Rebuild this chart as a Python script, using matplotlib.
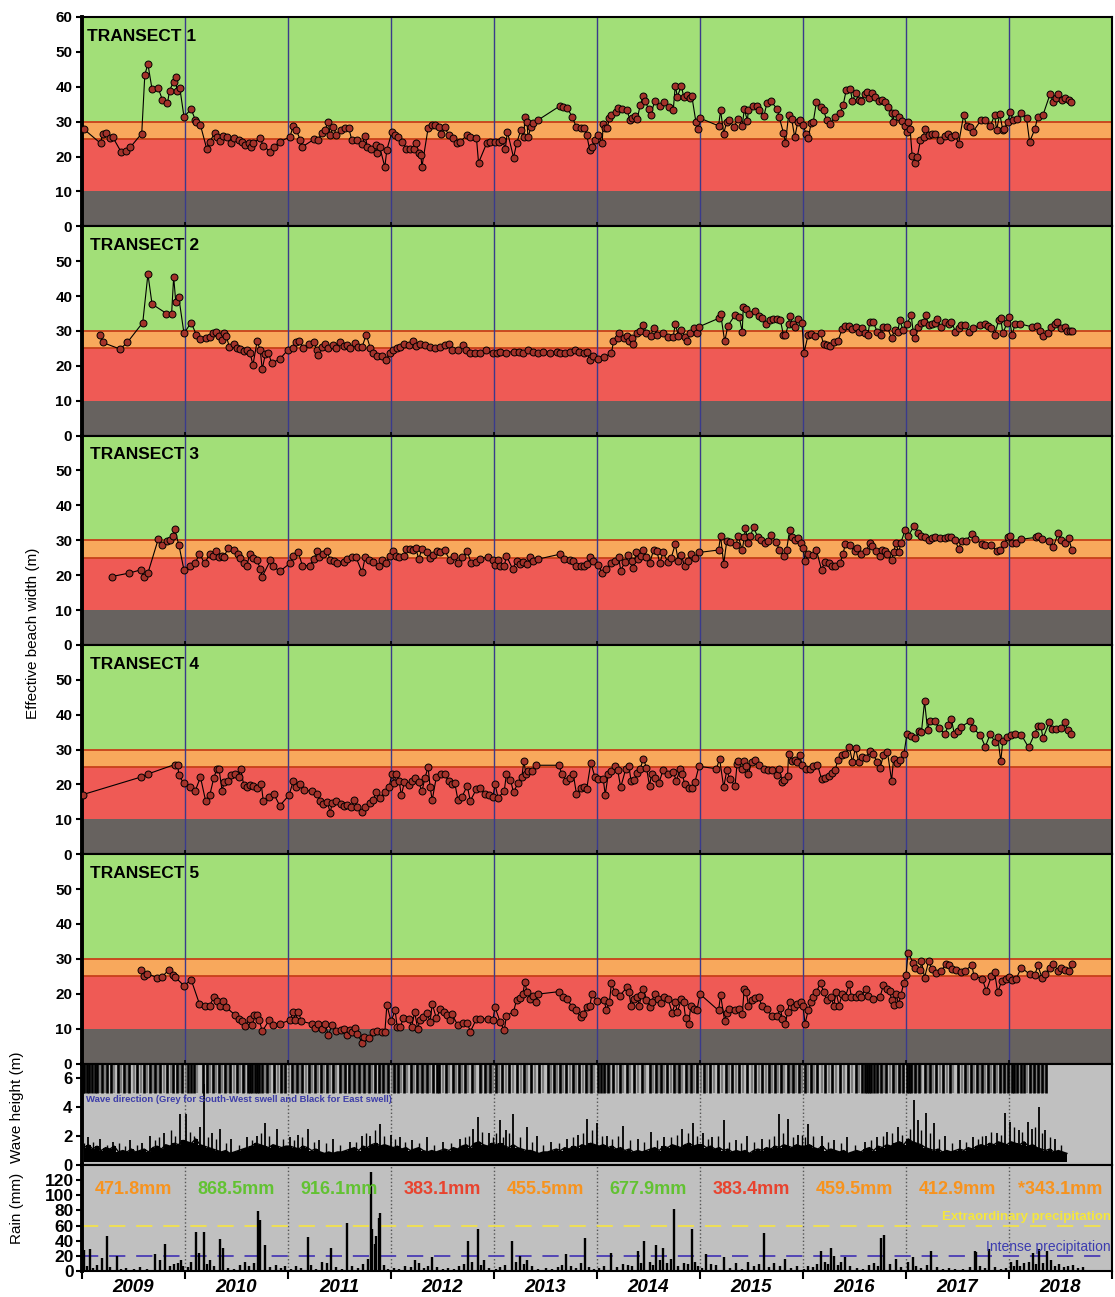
"""Effective beach width of five transects with wave height and rain, 2009-2018."""

import matplotlib
matplotlib.use("Agg")
import matplotlib.pyplot as plt
import numpy as np

plt.rcParams["font.family"] = ["Liberation Sans", "DejaVu Sans"]

# ---- transect data (decimal year, effective beach width in m) ----
t1_year = [
    2009.02, 2009.18, 2009.20, 2009.23, 2009.27, 2009.30, 2009.38, 2009.43, 2009.47, 2009.58,
    2009.61, 2009.64, 2009.68, 2009.74, 2009.78, 2009.83, 2009.85, 2009.89, 2009.91, 2009.92,
    2009.95, 2009.99, 2010.06, 2010.10, 2010.11, 2010.15, 2010.21, 2010.24, 2010.29, 2010.31,
    2010.34, 2010.37, 2010.41, 2010.45, 2010.48, 2010.52, 2010.55, 2010.58, 2010.62, 2010.64,
    2010.66, 2010.73, 2010.76, 2010.83, 2010.86, 2010.92, 2011.02, 2011.05, 2011.08, 2011.12,
    2011.14, 2011.25, 2011.29, 2011.33, 2011.36, 2011.39, 2011.41, 2011.44, 2011.47, 2011.51,
    2011.55, 2011.59, 2011.62, 2011.67, 2011.72, 2011.75, 2011.77, 2011.81, 2011.85, 2011.86,
    2011.89, 2011.94, 2011.96, 2012.01, 2012.04, 2012.07, 2012.11, 2012.15, 2012.18, 2012.22,
    2012.24, 2012.27, 2012.29, 2012.30, 2012.36, 2012.40, 2012.43, 2012.47, 2012.49, 2012.52,
    2012.56, 2012.60, 2012.64, 2012.67, 2012.74, 2012.77, 2012.83, 2012.85, 2012.93, 2012.96,
    2013.01, 2013.05, 2013.08, 2013.11, 2013.13, 2013.19, 2013.22, 2013.26, 2013.29, 2013.30,
    2013.32, 2013.33, 2013.36, 2013.38, 2013.43, 2013.64, 2013.67, 2013.71, 2013.76, 2013.80,
    2013.84, 2013.87, 2013.90, 2013.93, 2013.95, 2013.98, 2014.01,
    2014.05, 2014.06, 2014.08, 2014.10, 2014.12, 2014.14, 2014.18, 2014.20, 2014.24, 2014.29,
    2014.32, 2014.34, 2014.37, 2014.39, 2014.42, 2014.45, 2014.47, 2014.50, 2014.52, 2014.56,
    2014.61, 2014.65, 2014.70, 2014.74, 2014.76, 2014.78, 2014.82, 2014.84, 2014.87, 2014.90,
    2014.92, 2014.96, 2014.98, 2015.00, 2015.18, 2015.20, 2015.23, 2015.26, 2015.28, 2015.33,
    2015.37, 2015.41, 2015.43, 2015.46, 2015.47, 2015.51, 2015.55, 2015.57, 2015.62, 2015.65,
    2015.69, 2015.75, 2015.77, 2015.81, 2015.83, 2015.86, 2015.89, 2015.92, 2015.95, 2015.97,
    2016.00, 2016.03, 2016.05, 2016.08, 2016.10, 2016.13, 2016.17, 2016.20, 2016.23, 2016.26,
    2016.31, 2016.36, 2016.39, 2016.42, 2016.46, 2016.48, 2016.51, 2016.54, 2016.56, 2016.60,
    2016.62, 2016.64, 2016.67, 2016.70, 2016.74, 2016.77, 2016.80, 2016.83, 2016.86, 2016.87,
    2016.89, 2016.93, 2016.96, 2016.99, 2017.01, 2017.02, 2017.04, 2017.06, 2017.09, 2017.11,
    2017.14, 2017.17, 2017.18, 2017.22, 2017.25, 2017.28, 2017.33, 2017.38, 2017.41, 2017.44,
    2017.48, 2017.51, 2017.56, 2017.59, 2017.62, 2017.65, 2017.73, 2017.77, 2017.82, 2017.86,
    2017.88, 2017.91, 2017.94, 2017.95, 2017.99, 2018.01, 2018.04, 2018.08, 2018.12, 2018.17,
    2018.20, 2018.25, 2018.28, 2018.33, 2018.40, 2018.43, 2018.46, 2018.48, 2018.51, 2018.54,
    2018.58, 2018.60,
]
t1_width = [
    27.8, 23.8, 26.4, 26.8, 25.2, 25.5, 21.3, 21.6, 22.7, 26.6,
    43.5, 46.5, 39.3, 39.6, 36.3, 35.3, 38.9, 41.5, 42.7, 38.9,
    39.6, 31.4, 33.6, 30.5, 30.0, 29.0, 22.3, 24.2, 26.8, 25.7,
    24.5, 25.9, 25.7, 23.9, 25.3, 24.7, 24.2, 23.3, 23.9, 22.8,
    23.9, 25.2, 23.1, 21.3, 22.8, 24.2, 25.7, 28.8, 27.6, 24.7,
    22.8, 24.9, 24.7, 26.8, 27.6, 30.0, 26.2, 28.4, 26.2, 27.6,
    28.1, 28.1, 24.7, 24.7, 23.6, 25.9, 22.8, 22.3, 23.3, 20.9,
    22.8, 17.0, 22.0, 27.1, 26.2, 25.7, 24.2, 22.3, 22.3, 22.3,
    23.9, 21.1, 20.4, 17.0, 28.1, 29.0, 29.0, 28.6, 26.6, 28.4,
    26.2, 25.2, 23.9, 24.2, 26.2, 25.7, 25.2, 18.2, 23.9, 24.2,
    24.2, 24.2, 24.7, 22.3, 27.1, 19.7, 23.8, 27.6, 25.7, 31.4,
    30.0, 25.5, 28.6, 29.5, 30.5, 34.5, 34.1, 34.0, 31.3, 28.4,
    28.1, 28.1, 26.2, 21.8, 22.8, 24.7, 26.2,
    23.8, 29.3, 28.1, 28.1, 31.0, 31.9, 32.9, 33.8, 33.6, 33.4,
    30.5, 31.0, 31.6, 30.7, 34.8, 37.4, 35.8, 33.6, 31.9, 35.8,
    34.5, 35.5, 34.3, 33.2, 40.3, 37.2, 40.3, 37.2, 37.7, 36.7,
    37.4, 30.0, 27.8, 31.0, 28.8, 33.2, 26.6, 30.0, 30.5, 28.6,
    30.7, 28.8, 33.6, 30.3, 33.4, 34.5, 34.5, 33.2, 31.6, 35.3,
    35.8, 33.6, 31.2, 26.8, 23.9, 31.9, 30.7, 25.5, 30.0, 30.5,
    29.0, 26.6, 25.2, 29.7, 30.0, 35.5, 34.3, 33.2, 30.5, 29.3,
    31.4, 32.6, 34.8, 39.1, 39.3, 35.8, 38.2, 36.1, 35.8, 37.9,
    38.4, 36.7, 38.2, 37.2, 35.8, 36.3, 35.5, 34.1, 32.6, 30.0,
    32.4, 31.4, 30.3, 28.8, 27.1, 30.0, 27.8, 20.1, 18.2, 19.9,
    24.7, 25.5, 27.8, 26.2, 26.6, 26.4, 24.7, 25.9, 26.4, 25.7,
    26.2, 23.6, 31.9, 28.8, 28.6, 27.1, 30.5, 30.5, 28.8, 31.9,
    27.6, 32.2, 27.6, 27.8, 30.0, 32.9, 30.5, 30.7, 32.4, 31.0,
    24.2, 27.8, 31.4, 31.9, 38.0, 35.5, 36.7, 38.0, 36.3, 36.7,
    36.3, 35.5,
]

t2_year = [
    2009.17, 2009.20, 2009.37, 2009.44, 2009.59, 2009.64, 2009.68, 2009.82, 2009.87, 2009.89,
    2009.91, 2009.94, 2009.99, 2010.06, 2010.11, 2010.15, 2010.20, 2010.24, 2010.27, 2010.30,
    2010.33, 2010.36, 2010.38, 2010.40, 2010.43, 2010.48, 2010.50, 2010.53, 2010.57, 2010.60,
    2010.63, 2010.66, 2010.70, 2010.73, 2010.75, 2010.78, 2010.81, 2010.84, 2010.92, 2011.00,
    2011.05, 2011.08, 2011.11, 2011.15, 2011.20, 2011.25, 2011.28, 2011.29, 2011.33, 2011.36,
    2011.39, 2011.44, 2011.47, 2011.50, 2011.54, 2011.57, 2011.60, 2011.65, 2011.68, 2011.72,
    2011.76, 2011.80, 2011.83, 2011.86, 2011.91, 2011.95, 2011.99, 2012.02, 2012.06, 2012.09,
    2012.13, 2012.17, 2012.21, 2012.24, 2012.28, 2012.33, 2012.38, 2012.43, 2012.48, 2012.52,
    2012.56, 2012.59, 2012.65, 2012.70, 2012.73, 2012.77, 2012.82, 2012.86, 2012.92, 2012.99,
    2013.03, 2013.06, 2013.12, 2013.19, 2013.24, 2013.28, 2013.33, 2013.38, 2013.43, 2013.48,
    2013.54, 2013.61, 2013.64, 2013.69, 2013.74, 2013.79, 2013.83, 2013.87, 2013.90, 2013.93,
    2013.96, 2014.01,
    2014.07, 2014.14, 2014.16, 2014.20, 2014.21, 2014.26, 2014.29, 2014.31, 2014.34, 2014.35,
    2014.39, 2014.42, 2014.45, 2014.48, 2014.52, 2014.55, 2014.58, 2014.64, 2014.69, 2014.74,
    2014.76, 2014.79, 2014.82, 2014.85, 2014.87, 2014.90, 2014.94, 2014.97, 2014.99, 2015.18,
    2015.20, 2015.24, 2015.27, 2015.34, 2015.38, 2015.41, 2015.42, 2015.45, 2015.48, 2015.53,
    2015.57, 2015.60, 2015.64, 2015.68, 2015.71, 2015.75, 2015.78, 2015.81, 2015.83, 2015.86,
    2015.87, 2015.90, 2015.92, 2015.95, 2015.99, 2016.01, 2016.05, 2016.08, 2016.12, 2016.17,
    2016.20, 2016.23, 2016.26, 2016.30, 2016.34, 2016.38, 2016.41, 2016.45, 2016.48, 2016.51,
    2016.54, 2016.57, 2016.60, 2016.63, 2016.65, 2016.68, 2016.72, 2016.76, 2016.78, 2016.82,
    2016.86, 2016.89, 2016.92, 2016.94, 2016.97, 2017.01, 2017.05, 2017.07, 2017.09, 2017.12,
    2017.15, 2017.17, 2017.19, 2017.22, 2017.25, 2017.28, 2017.30, 2017.34, 2017.38, 2017.42,
    2017.44, 2017.48, 2017.51, 2017.53, 2017.57, 2017.61, 2017.65, 2017.72, 2017.77, 2017.80,
    2017.83, 2017.86, 2017.90, 2017.92, 2017.94, 2017.98, 2018.00, 2018.03, 2018.06, 2018.11,
    2018.22, 2018.27, 2018.30, 2018.33, 2018.38, 2018.41, 2018.45, 2018.47, 2018.50, 2018.54,
    2018.56, 2018.59, 2018.61,
]
t2_width = [
    28.9, 26.7, 24.8, 26.7, 32.4, 46.3, 37.7, 35.0, 34.9, 45.5,
    38.4, 39.6, 29.3, 32.4, 28.9, 27.6, 27.9, 28.2, 29.5, 29.8,
    28.6, 27.4, 29.5, 28.6, 25.5, 26.3, 25.0, 24.8, 24.3, 24.6,
    23.8, 20.3, 27.0, 24.6, 19.0, 23.4, 23.8, 20.8, 21.9, 24.6,
    25.0, 26.7, 27.2, 25.0, 26.3, 26.7, 24.6, 23.1, 25.3, 26.3,
    25.0, 26.0, 25.0, 26.7, 25.7, 26.0, 25.0, 26.5, 25.5, 25.5,
    28.9, 25.0, 23.8, 22.9, 22.7, 21.7, 23.6, 24.4, 25.0, 25.5,
    26.3, 26.0, 27.0, 25.7, 26.3, 26.0, 25.5, 25.0, 25.5, 26.0,
    26.3, 24.6, 24.4, 26.0, 24.6, 23.6, 23.8, 23.8, 24.6, 23.6,
    23.8, 24.1, 23.8, 24.1, 24.1, 23.8, 24.4, 24.1, 23.8, 24.1,
    23.6, 24.1, 23.8, 23.6, 24.1, 24.6, 24.1, 23.6, 24.1, 21.7,
    22.7, 21.9,
    22.5, 23.6, 27.0, 27.9, 29.3, 27.9, 28.6, 27.2, 27.9, 26.3,
    29.5, 30.1, 31.7, 29.3, 28.6, 30.8, 28.9, 29.3, 28.2, 28.4,
    32.0, 28.6, 30.3, 28.4, 27.2, 29.3, 30.8, 29.3, 31.2, 33.6,
    34.9, 27.0, 31.4, 34.6, 34.1, 29.8, 36.8, 36.2, 35.0, 35.8,
    34.3, 33.6, 32.0, 33.1, 33.3, 33.3, 33.1, 28.9, 28.9, 32.0,
    34.3, 32.0, 31.0, 33.3, 32.2, 23.8, 28.9, 29.1, 28.6, 29.3,
    26.3, 26.0, 25.7, 26.7, 27.2, 30.5, 31.4, 31.4, 30.5, 31.2,
    29.8, 30.8, 29.3, 28.9, 32.7, 32.7, 29.8, 28.9, 31.2, 31.0,
    27.9, 30.3, 29.8, 33.1, 30.3, 32.0, 34.6, 29.8, 27.9, 31.2,
    32.2, 32.7, 34.6, 31.7, 32.0, 32.2, 33.3, 31.2, 32.7, 32.0,
    32.7, 29.8, 30.8, 31.7, 31.7, 29.8, 30.8, 31.7, 32.0, 31.4,
    30.8, 28.9, 33.1, 33.6, 29.3, 32.2, 34.1, 28.9, 32.0, 32.0,
    31.2, 31.4, 30.1, 28.6, 29.3, 31.2, 32.0, 32.7, 30.8, 31.2,
    30.1, 30.1, 30.1,
]

t3_year = [
    2009.29, 2009.46, 2009.57, 2009.60, 2009.64, 2009.74, 2009.78, 2009.83, 2009.85, 2009.88,
    2009.90, 2009.94, 2009.99, 2010.05, 2010.10, 2010.14, 2010.19, 2010.24, 2010.27, 2010.30,
    2010.33, 2010.36, 2010.38, 2010.42, 2010.48, 2010.51, 2010.53, 2010.57, 2010.60, 2010.63,
    2010.66, 2010.70, 2010.73, 2010.75, 2010.83, 2010.85, 2010.92, 2011.02, 2011.05, 2011.10,
    2011.14, 2011.21, 2011.25, 2011.28, 2011.30, 2011.34, 2011.38, 2011.41, 2011.45, 2011.48,
    2011.54, 2011.57, 2011.62, 2011.66, 2011.72, 2011.75, 2011.79, 2011.83, 2011.88, 2011.91,
    2011.95, 2011.99, 2012.02, 2012.05, 2012.08, 2012.13, 2012.15, 2012.18, 2012.21, 2012.24,
    2012.27, 2012.30, 2012.35, 2012.38, 2012.41, 2012.45, 2012.48, 2012.52, 2012.57, 2012.61,
    2012.65, 2012.69, 2012.74, 2012.78, 2012.83, 2012.86, 2012.94, 2012.99, 2013.01, 2013.04,
    2013.06, 2013.10, 2013.12, 2013.18, 2013.22, 2013.25, 2013.28, 2013.32, 2013.35, 2013.38,
    2013.43, 2013.64, 2013.68, 2013.74, 2013.77, 2013.80, 2013.84, 2013.87, 2013.90, 2013.93,
    2013.96, 2014.01,
    2014.05, 2014.09, 2014.14, 2014.17, 2014.21, 2014.23, 2014.27, 2014.30, 2014.34, 2014.35,
    2014.38, 2014.40, 2014.43, 2014.45, 2014.48, 2014.51, 2014.55, 2014.58, 2014.61, 2014.64,
    2014.69, 2014.72, 2014.76, 2014.79, 2014.82, 2014.85, 2014.88, 2014.91, 2014.95, 2014.99,
    2015.18, 2015.20, 2015.23, 2015.26, 2015.29, 2015.35, 2015.37, 2015.41, 2015.43, 2015.44,
    2015.47, 2015.49, 2015.52, 2015.56, 2015.59, 2015.63, 2015.66, 2015.69, 2015.74, 2015.77,
    2015.82, 2015.84, 2015.87, 2015.89, 2015.92, 2015.95, 2015.98, 2016.00, 2016.02, 2016.05,
    2016.10, 2016.13, 2016.18, 2016.21, 2016.25, 2016.28, 2016.31, 2016.36, 2016.39, 2016.41,
    2016.46, 2016.50, 2016.52, 2016.56, 2016.61, 2016.65, 2016.67, 2016.71, 2016.75, 2016.77,
    2016.80, 2016.82, 2016.86, 2016.88, 2016.90, 2016.93, 2016.95, 2016.99, 2017.02, 2017.08,
    2017.12, 2017.15, 2017.18, 2017.22, 2017.25, 2017.28, 2017.33, 2017.38, 2017.41, 2017.44,
    2017.48, 2017.51, 2017.54, 2017.58, 2017.64, 2017.67, 2017.74, 2017.77, 2017.83, 2017.88,
    2017.91, 2017.95, 2017.99, 2018.01, 2018.03, 2018.07, 2018.12, 2018.26, 2018.28, 2018.32,
    2018.39, 2018.43, 2018.48, 2018.50, 2018.54, 2018.58, 2018.61,
]
t3_width = [
    19.6, 20.6, 21.5, 19.6, 20.6, 30.3, 28.7, 29.8, 30.0, 31.2,
    33.1, 28.7, 21.5, 22.7, 23.4, 26.2, 23.4, 26.0, 25.6, 26.8,
    25.1, 25.6, 25.3, 27.9, 27.2, 26.0, 24.9, 23.4, 22.7, 26.2,
    24.9, 24.3, 21.8, 19.6, 24.3, 22.7, 21.1, 23.4, 25.6, 26.5,
    22.7, 22.7, 24.6, 26.8, 25.1, 26.0, 26.8, 24.3, 24.0, 23.4,
    23.7, 24.6, 25.1, 25.1, 20.8, 25.3, 24.3, 23.7, 22.7, 24.3,
    23.4, 25.6, 26.8, 25.6, 25.3, 25.6, 27.5, 27.5, 27.2, 27.7,
    24.6, 27.5, 26.5, 24.9, 25.8, 27.0, 26.5, 27.2, 24.3, 25.6,
    23.4, 25.1, 26.8, 23.4, 23.7, 24.6, 25.3, 24.3, 23.0, 24.2,
    22.5, 22.5, 25.6, 21.8, 24.0, 23.2, 23.7, 23.2, 25.3, 24.0,
    24.6, 26.0, 24.6, 24.3, 24.0, 22.7, 22.5, 22.5, 23.2, 25.3,
    24.0, 23.0,
    20.6, 21.8, 23.4, 24.0, 25.3, 21.3, 23.7, 25.8, 24.0, 22.1,
    26.5, 24.6, 25.6, 27.2, 25.1, 23.4, 27.2, 27.0, 23.4, 26.5,
    23.7, 24.9, 28.9, 24.0, 25.8, 22.5, 24.0, 26.2, 24.9, 26.5,
    27.2, 31.2, 23.2, 29.8, 29.6, 28.7, 31.2, 27.2, 30.9, 33.4,
    29.3, 31.2, 33.8, 30.9, 30.0, 29.3, 29.8, 31.5, 29.6, 27.2,
    25.6, 27.2, 32.8, 30.9, 30.0, 30.6, 29.1, 27.9, 24.0, 26.0,
    25.8, 27.2, 21.5, 23.7, 23.4, 22.7, 22.5, 23.4, 26.2, 28.9,
    28.7, 27.0, 27.7, 26.0, 26.8, 29.3, 28.4, 26.8, 25.6, 27.2,
    27.0, 26.2, 24.3, 26.5, 29.1, 26.5, 29.3, 32.8, 31.2, 34.1,
    32.2, 31.2, 30.8, 30.0, 30.6, 30.8, 30.6, 30.6, 30.9, 30.9,
    30.0, 27.5, 29.8, 29.8, 31.9, 30.3, 28.9, 28.7, 28.7, 26.8,
    27.2, 28.9, 30.9, 31.2, 29.1, 29.1, 30.3, 30.8, 31.2, 30.3,
    29.8, 28.1, 32.2, 30.0, 29.1, 30.6, 27.2,
]

t4_year = [
    2009.01, 2009.57, 2009.64, 2009.90, 2009.93, 2009.94, 2009.99, 2010.05, 2010.10, 2010.15,
    2010.20, 2010.24, 2010.28, 2010.31, 2010.33, 2010.36, 2010.38, 2010.42, 2010.45, 2010.49,
    2010.52, 2010.54, 2010.57, 2010.60, 2010.63, 2010.66, 2010.70, 2010.74, 2010.76, 2010.82,
    2010.86, 2010.92, 2011.01, 2011.05, 2011.08, 2011.12, 2011.16, 2011.23, 2011.28, 2011.31,
    2011.34, 2011.38, 2011.41, 2011.43, 2011.47, 2011.51, 2011.54, 2011.57, 2011.61, 2011.64,
    2011.67, 2011.72, 2011.75, 2011.80, 2011.83, 2011.85, 2011.89, 2011.94, 2011.98, 2012.01,
    2012.03, 2012.05, 2012.08, 2012.10, 2012.13, 2012.17, 2012.20, 2012.23, 2012.27, 2012.30,
    2012.33, 2012.36, 2012.38, 2012.40, 2012.44, 2012.49, 2012.52, 2012.56, 2012.59, 2012.62,
    2012.65, 2012.69, 2012.74, 2012.77, 2012.83, 2012.86, 2012.91, 2012.95, 2012.99, 2013.01,
    2013.04, 2013.10, 2013.12, 2013.16, 2013.19, 2013.23, 2013.27, 2013.29, 2013.31, 2013.33,
    2013.37, 2013.41, 2013.63, 2013.66, 2013.70, 2013.74, 2013.77, 2013.80, 2013.84, 2013.87,
    2013.90, 2013.94, 2013.98, 2014.01,
    2014.06, 2014.08, 2014.11, 2014.14, 2014.17, 2014.20, 2014.23, 2014.28, 2014.31, 2014.33,
    2014.36, 2014.39, 2014.42, 2014.45, 2014.48, 2014.51, 2014.53, 2014.56, 2014.60, 2014.64,
    2014.69, 2014.74, 2014.77, 2014.81, 2014.83, 2014.85, 2014.89, 2014.92, 2014.95, 2014.99,
    2015.16, 2015.19, 2015.23, 2015.26, 2015.29, 2015.34, 2015.36, 2015.37, 2015.41, 2015.43,
    2015.45, 2015.47, 2015.50, 2015.53, 2015.57, 2015.62, 2015.66, 2015.70, 2015.75, 2015.77,
    2015.80, 2015.82, 2015.85, 2015.86, 2015.89, 2015.92, 2015.94, 2015.97, 2015.99, 2016.03,
    2016.07, 2016.10, 2016.14, 2016.18, 2016.21, 2016.25, 2016.28, 2016.31, 2016.34, 2016.38,
    2016.41, 2016.45, 2016.48, 2016.51, 2016.54, 2016.57, 2016.61, 2016.65, 2016.68, 2016.72,
    2016.75, 2016.78, 2016.82, 2016.86, 2016.88, 2016.91, 2016.94, 2016.98, 2017.01, 2017.05,
    2017.09, 2017.13, 2017.15, 2017.18, 2017.21, 2017.23, 2017.28, 2017.32, 2017.38, 2017.41,
    2017.44, 2017.47, 2017.50, 2017.53, 2017.62, 2017.65, 2017.72, 2017.77, 2017.82, 2017.86,
    2017.89, 2017.92, 2017.94, 2017.98, 2018.02, 2018.06, 2018.12, 2018.19, 2018.25, 2018.28,
    2018.31, 2018.33, 2018.39, 2018.42, 2018.46, 2018.50, 2018.54, 2018.57, 2018.60,
]
t4_width = [
    17.1, 22.1, 23.0, 25.7, 25.5, 22.6, 20.3, 19.2, 18.2, 22.1,
    15.3, 16.9, 21.9, 24.5, 24.5, 18.2, 20.6, 20.9, 22.6, 23.0,
    22.1, 24.5, 19.9, 19.4, 19.9, 19.6, 19.0, 20.1, 15.3, 16.5,
    17.4, 13.9, 16.9, 20.9, 19.2, 20.1, 18.4, 18.0, 17.4, 15.3,
    14.5, 15.1, 11.9, 14.8, 15.3, 14.5, 13.9, 14.2, 13.6, 15.5,
    13.6, 12.2, 13.6, 14.8, 15.5, 17.7, 16.1, 17.7, 19.2, 23.0,
    20.3, 23.0, 20.9, 16.9, 20.6, 19.9, 20.9, 21.9, 20.6, 18.0,
    21.9, 25.0, 19.2, 15.5, 22.1, 23.0, 23.0, 20.9, 20.1, 20.3,
    15.5, 16.5, 19.6, 15.3, 18.7, 19.0, 17.4, 16.9, 16.3, 20.1,
    16.1, 18.2, 22.9, 21.3, 17.7, 20.3, 22.1, 26.7, 23.0, 23.8,
    23.8, 25.5, 25.5, 22.9, 21.1, 21.9, 22.9, 17.4, 19.0, 19.2,
    18.7, 26.2, 22.1, 21.6,
    21.6, 17.1, 23.0, 23.8, 25.2, 24.2, 19.2, 24.5, 25.2, 21.1,
    21.3, 23.2, 24.5, 27.4, 24.8, 19.6, 23.0, 21.9, 20.3, 24.0,
    23.0, 23.5, 21.1, 24.5, 23.0, 20.1, 19.0, 19.0, 20.6, 25.2,
    24.5, 27.4, 19.2, 24.0, 21.6, 19.6, 25.9, 26.7, 24.5, 26.7,
    25.2, 22.9, 26.4, 27.1, 25.5, 24.5, 24.0, 24.2, 22.6, 24.5,
    20.6, 21.3, 22.3, 28.7, 26.7, 27.1, 26.4, 28.3, 25.7, 24.5,
    24.5, 25.2, 25.7, 21.6, 21.9, 22.3, 23.2, 24.0, 27.1, 28.3,
    28.8, 30.7, 26.4, 30.5, 26.4, 27.8, 27.6, 29.6, 28.8, 26.4,
    24.8, 28.3, 29.3, 21.1, 27.4, 26.1, 26.9, 28.8, 34.6, 33.8,
    33.4, 35.3, 35.0, 43.8, 35.6, 38.1, 38.1, 36.1, 34.4, 37.1,
    38.8, 34.4, 35.3, 36.4, 38.1, 36.1, 34.2, 30.8, 34.6, 32.2,
    33.6, 26.7, 32.5, 33.6, 34.2, 34.4, 34.2, 30.6, 34.6, 36.7,
    36.7, 33.2, 37.8, 35.8, 35.8, 36.1, 37.8, 35.6, 34.6,
]

t5_year = [
    2009.57, 2009.60, 2009.63, 2009.73, 2009.78, 2009.84, 2009.88, 2009.90, 2009.99, 2010.06,
    2010.14, 2010.19, 2010.24, 2010.28, 2010.31, 2010.34, 2010.37, 2010.40, 2010.49, 2010.52,
    2010.55, 2010.58, 2010.63, 2010.65, 2010.67, 2010.70, 2010.72, 2010.75, 2010.82, 2010.85,
    2010.92, 2011.02, 2011.05, 2011.07, 2011.10, 2011.13, 2011.23, 2011.26, 2011.29, 2011.33,
    2011.36, 2011.39, 2011.43, 2011.47, 2011.51, 2011.54, 2011.57, 2011.60, 2011.62, 2011.65,
    2011.67, 2011.72, 2011.74, 2011.79, 2011.83, 2011.86, 2011.91, 2011.94, 2011.96, 2012.00,
    2012.04, 2012.06, 2012.09, 2012.12, 2012.17, 2012.20, 2012.23, 2012.26, 2012.28, 2012.31,
    2012.35, 2012.38, 2012.40, 2012.44, 2012.48, 2012.51, 2012.54, 2012.57, 2012.59, 2012.65,
    2012.70, 2012.74, 2012.77, 2012.83, 2012.86, 2012.94, 2012.99, 2013.01, 2013.06, 2013.10,
    2013.12, 2013.19, 2013.22, 2013.25, 2013.28, 2013.30, 2013.32, 2013.35, 2013.38, 2013.41,
    2013.43, 2013.63, 2013.67, 2013.71, 2013.76, 2013.80, 2013.84, 2013.86, 2013.90, 2013.93,
    2013.95, 2014.00,
    2014.07, 2014.09, 2014.12, 2014.14, 2014.17, 2014.22, 2014.29, 2014.31, 2014.33, 2014.36,
    2014.39, 2014.41, 2014.43, 2014.45, 2014.48, 2014.51, 2014.53, 2014.56, 2014.59, 2014.62,
    2014.65, 2014.69, 2014.73, 2014.76, 2014.78, 2014.82, 2014.84, 2014.86, 2014.89, 2014.91,
    2014.94, 2014.97, 2015.00, 2015.18, 2015.20, 2015.24, 2015.26, 2015.28, 2015.34, 2015.38,
    2015.41, 2015.43, 2015.45, 2015.47, 2015.50, 2015.53, 2015.57, 2015.60, 2015.65, 2015.70,
    2015.75, 2015.78, 2015.80, 2015.83, 2015.85, 2015.87, 2015.91, 2015.94, 2015.98, 2016.00,
    2016.02, 2016.05, 2016.08, 2016.10, 2016.13, 2016.17, 2016.20, 2016.23, 2016.27, 2016.30,
    2016.32, 2016.35, 2016.38, 2016.41, 2016.45, 2016.47, 2016.51, 2016.54, 2016.56, 2016.61,
    2016.63, 2016.68, 2016.75, 2016.78, 2016.82, 2016.84, 2016.86, 2016.88, 2016.90, 2016.93,
    2016.95, 2016.98, 2017.00, 2017.02, 2017.07, 2017.09, 2017.14, 2017.15, 2017.18, 2017.22,
    2017.25, 2017.29, 2017.34, 2017.39, 2017.42, 2017.45, 2017.49, 2017.53, 2017.57, 2017.64,
    2017.66, 2017.74, 2017.78, 2017.83, 2017.86, 2017.89, 2017.93, 2017.97, 2018.00, 2018.03,
    2018.07, 2018.12, 2018.20, 2018.25, 2018.28, 2018.32, 2018.35, 2018.40, 2018.43, 2018.48,
    2018.50, 2018.54, 2018.58, 2018.61,
]
t5_width = [
    26.8, 25.1, 25.8, 24.6, 24.9, 26.8, 25.3, 24.9, 22.3, 24.0,
    17.1, 16.6, 16.6, 19.0, 18.0, 16.6, 18.0, 16.1, 13.8, 12.8,
    12.1, 10.8, 12.8, 10.9, 13.8, 13.8, 12.6, 9.2, 12.6, 11.1,
    11.4, 12.4, 14.9, 12.6, 14.9, 12.1, 11.4, 10.2, 11.4, 10.0,
    11.4, 8.3, 10.9, 9.2, 9.5, 10.0, 8.1, 9.5, 9.1, 10.2,
    8.6, 6.0, 7.6, 7.4, 9.1, 9.2, 9.1, 8.9, 16.8, 12.1,
    15.2, 10.5, 10.5, 13.0, 12.8, 10.5, 14.7, 9.8, 12.6, 13.3,
    14.5, 11.9, 17.1, 13.0, 15.5, 14.7, 14.0, 12.4, 14.2, 10.9,
    11.7, 11.7, 9.1, 12.8, 12.8, 12.8, 12.6, 16.1, 11.9, 9.5,
    13.6, 14.9, 18.3, 18.7, 19.9, 23.4, 20.4, 18.5, 19.4, 17.7,
    19.9, 20.6, 19.0, 18.5, 16.1, 15.2, 13.3, 14.2, 16.1, 16.4,
    19.9, 18.0,
    18.3, 15.2, 17.5, 23.0, 20.6, 19.4, 21.8, 20.6, 16.6, 18.5,
    19.0, 16.6, 19.6, 21.5, 18.3, 16.1, 17.7, 19.9, 18.5, 17.4,
    19.2, 18.5, 14.5, 17.5, 14.7, 18.5, 17.7, 13.0, 11.4, 16.4,
    15.7, 15.2, 19.9, 15.2, 19.6, 12.1, 14.5, 15.7, 15.2, 15.5,
    14.2, 21.5, 20.4, 16.6, 18.3, 18.7, 19.0, 16.6, 15.5, 13.6,
    13.6, 15.8, 12.8, 11.4, 14.9, 17.5, 16.1, 17.0, 17.7, 16.4,
    11.4, 15.2, 17.5, 19.0, 20.6, 23.0, 20.6, 18.3, 19.0, 16.6,
    20.6, 16.6, 19.9, 19.0, 22.7, 19.0, 19.0, 19.9, 19.0, 21.3,
    19.4, 18.5, 19.2, 22.5, 21.5, 20.8, 18.3, 16.8, 19.9, 17.1,
    19.6, 23.2, 25.3, 31.7, 28.9, 27.5, 26.8, 29.3, 24.6, 29.3,
    27.0, 26.0, 26.6, 28.4, 28.1, 27.0, 26.8, 26.2, 26.6, 28.1,
    25.1, 24.3, 20.8, 25.1, 26.2, 20.4, 23.7, 24.3, 24.9, 23.8,
    24.3, 27.5, 25.6, 25.3, 28.1, 24.6, 25.8, 27.5, 28.4, 26.6,
    27.5, 26.8, 26.6, 28.4,
]

# ---- waves: semi-monthly typical upper level (m), storm peaks, swell direction ----
wave_band = [
    1.2, 1.4, 1.1, 1.3, 1.0, 1.2, 1.1, 1.3, 0.9, 1.0, 0.9, 1.1, 0.9, 1.0, 1.1, 0.9, 1.2, 1.3, 1.1, 1.4, 1.3, 1.5, 1.4, 1.7,
    1.6, 1.5, 1.8, 1.4, 1.3, 1.2, 1.1, 1.0, 0.9, 1.0, 0.8, 0.9, 1.0, 1.1, 1.2, 1.3, 1.5, 1.4, 1.3, 1.2, 1.4, 1.3, 1.2, 1.3,
    1.3, 1.2, 1.1, 1.3, 1.2, 1.0, 1.1, 0.9, 0.8, 0.9, 0.8, 0.9, 0.9, 1.0, 1.1, 1.2, 1.0, 1.3, 1.2, 1.4, 1.5, 1.3, 1.4, 1.3,
    1.2, 1.3, 1.1, 1.2, 1.0, 1.1, 1.2, 1.0, 0.9, 1.0, 0.9, 1.0, 1.1, 1.0, 1.2, 1.1, 1.3, 1.4, 1.2, 1.5, 1.6, 1.4, 1.3, 1.5,
    1.4, 1.5, 1.3, 1.2, 1.4, 1.2, 1.1, 1.0, 1.0, 0.9, 0.8, 0.9, 0.9, 1.0, 1.1, 1.0, 1.2, 1.1, 1.3, 1.2, 1.4, 1.3, 1.5, 1.4,
    1.3, 1.4, 1.2, 1.3, 1.1, 1.2, 1.0, 1.1, 0.9, 1.0, 0.9, 1.0, 1.1, 1.2, 1.0, 1.3, 1.2, 1.4, 1.3, 1.2, 1.4, 1.5, 1.3, 1.4,
    1.4, 1.2, 1.3, 1.1, 1.2, 1.0, 1.1, 0.9, 1.0, 0.9, 1.0, 0.8, 1.0, 1.1, 1.0, 1.2, 1.1, 1.3, 1.2, 1.4, 1.3, 1.2, 1.4, 1.3,
    1.3, 1.4, 1.2, 1.1, 1.3, 1.0, 1.1, 1.0, 0.9, 1.0, 0.8, 0.9, 1.0, 0.9, 1.1, 1.2, 1.0, 1.3, 1.2, 1.4, 1.3, 1.5, 1.6, 1.4,
    1.8, 1.6, 1.5, 1.4, 1.2, 1.1, 1.0, 1.1, 0.9, 1.0, 0.9, 1.0, 1.1, 1.0, 1.2, 1.1, 1.3, 1.4, 1.3, 1.5, 1.4, 1.6, 1.5, 1.4,
    1.6, 1.5, 1.4, 1.6, 1.3, 1.4, 1.2, 1.1, 1.0, 1.1, 0.9, 1.0, 0.9, 0.8,
]
wave_peak_year = [
    2009.06, 2009.17, 2009.30, 2009.47, 2009.58, 2009.66, 2009.80, 2009.95, 2010.01, 2010.15,
    2010.18, 2010.26, 2010.34, 2010.45, 2010.60, 2010.70, 2010.78, 2010.89, 2011.02, 2011.10,
    2011.19, 2011.30, 2011.44, 2011.60, 2011.72, 2011.80, 2011.89, 2012.00, 2012.09, 2012.20,
    2012.35, 2012.50, 2012.67, 2012.80, 2012.84, 2012.95, 2013.06, 2013.12, 2013.18, 2013.32,
    2013.42, 2013.55, 2013.71, 2013.82, 2013.90, 2014.00, 2014.10, 2014.25, 2014.40, 2014.52,
    2014.65, 2014.83, 2014.93, 2015.03, 2015.12, 2015.23, 2015.35, 2015.46, 2015.60, 2015.77,
    2015.85, 2015.95, 2016.05, 2016.18, 2016.30, 2016.43, 2016.60, 2016.72, 2016.82, 2016.92,
    2017.08, 2017.12, 2017.19, 2017.27, 2017.38, 2017.52, 2017.65, 2017.78, 2017.88, 2017.96,
    2018.01, 2018.10, 2018.18, 2018.22, 2018.29, 2018.35, 2018.45,
]
wave_peak_m = [
    1.9, 1.8, 1.6, 1.7, 1.5, 2.0, 2.2, 3.5, 3.5, 2.6,
    5.6, 2.2, 2.5, 1.8, 1.9, 2.0, 2.9, 2.5, 1.9, 2.1,
    2.5, 1.7, 1.8, 1.6, 2.0, 2.0, 2.8, 2.1, 1.9, 1.7,
    1.9, 1.6, 1.8, 2.5, 3.3, 2.2, 3.1, 2.4, 3.5, 2.6,
    2.0, 1.6, 1.8, 2.1, 3.2, 2.9, 2.0, 2.7, 1.8, 2.3,
    1.9, 2.5, 2.9, 2.2, 1.9, 3.1, 1.7, 2.0, 1.8, 3.5,
    3.2, 2.1, 2.8, 2.0, 1.7, 1.9, 1.6, 1.9, 2.3, 2.6,
    4.5, 3.1, 3.6, 2.9, 2.0, 1.7, 1.9, 2.0, 2.2, 3.6,
    3.0, 2.4, 3.0, 2.5, 4.0, 2.4, 1.8,
]
# smaller swell events between the storms
wave_minor_year = [
    2009.02, 2009.11, 2009.24, 2009.36, 2009.42, 2009.53, 2009.71, 2009.75, 2009.86, 2009.90,
    2010.05, 2010.09, 2010.22, 2010.30, 2010.40, 2010.52, 2010.65, 2010.74, 2010.82, 2010.95,
    2011.06, 2011.14, 2011.25, 2011.37, 2011.50, 2011.66, 2011.76, 2011.84, 2011.93,
    2012.04, 2012.14, 2012.27, 2012.42, 2012.58, 2012.72, 2012.76, 2012.88, 2012.99,
    2013.02, 2013.09, 2013.15, 2013.25, 2013.37, 2013.48, 2013.63, 2013.77, 2013.86, 2013.95,
    2014.05, 2014.15, 2014.20, 2014.32, 2014.46, 2014.58, 2014.72, 2014.78, 2014.88, 2014.97,
    2015.08, 2015.17, 2015.28, 2015.40, 2015.52, 2015.67, 2015.72, 2015.81, 2015.90, 2015.99,
    2016.02, 2016.10, 2016.24, 2016.37, 2016.50, 2016.66, 2016.78, 2016.86, 2016.96,
    2017.04, 2017.15, 2017.23, 2017.32, 2017.45, 2017.58, 2017.70, 2017.74, 2017.83, 2017.92,
    2018.05, 2018.13, 2018.25, 2018.32, 2018.40, 2018.50,
]
wave_minor_m = [
    1.5, 1.6, 1.4, 1.5, 1.3, 1.4, 1.7, 1.9, 2.4, 2.0,
    2.3, 2.0, 1.9, 1.8, 1.5, 1.4, 1.7, 2.2, 2.0, 1.8,
    1.7, 1.9, 1.6, 1.5, 1.4, 1.6, 2.2, 2.4, 2.0,
    1.8, 1.6, 1.5, 1.4, 1.5, 1.9, 2.0, 2.3, 1.9,
    2.2, 1.9, 2.2, 1.9, 1.6, 1.4, 1.5, 1.9, 2.2, 2.4,
    2.0, 1.8, 2.0, 1.7, 1.6, 1.7, 1.9, 2.1, 2.2, 2.0,
    1.8, 2.0, 1.6, 1.5, 1.6, 1.8, 2.0, 2.2, 1.9, 2.1,
    1.9, 2.0, 1.6, 1.5, 1.4, 1.7, 2.0, 2.2, 2.1,
    2.5, 2.4, 2.2, 1.8, 1.5, 1.6, 1.8, 2.0, 2.3, 2.1,
    2.6, 2.3, 2.6, 2.2, 1.9, 1.4,
]
east_swell = [
    2009.01, 2009.02, 2009.05, 2009.07, 2009.10, 2009.13, 2009.15, 2009.19, 2009.24, 2009.28,
    2009.35, 2009.41, 2009.46, 2009.53, 2009.60, 2009.66, 2009.71, 2009.76, 2009.83, 2009.88,
    2009.92, 2009.97, 2010.03, 2010.06, 2010.09, 2010.17, 2010.21, 2010.27, 2010.33, 2010.39,
    2010.44, 2010.50, 2010.56, 2010.61, 2010.63, 2010.65, 2010.68, 2010.70, 2010.72, 2010.75,
    2010.80, 2010.86, 2010.93, 2010.97, 2011.04, 2011.09, 2011.14, 2011.20, 2011.26, 2011.32,
    2011.38, 2011.44, 2011.50, 2011.55, 2011.59, 2011.64, 2011.69, 2011.74, 2011.79, 2011.84,
    2011.88, 2011.92, 2011.97, 2012.03, 2012.07, 2012.13, 2012.19, 2012.25, 2012.30, 2012.35,
    2012.41, 2012.45, 2012.47, 2012.53, 2012.60, 2012.66, 2012.72, 2012.79, 2012.86, 2012.91,
    2012.96, 2013.02, 2013.08, 2013.15, 2013.22, 2013.29, 2013.36, 2013.44, 2013.52, 2013.58,
    2013.64, 2013.70, 2013.77, 2013.83, 2013.89, 2013.94, 2014.01, 2014.04, 2014.07, 2014.11,
    2014.16, 2014.22, 2014.29, 2014.36, 2014.44, 2014.51, 2014.57, 2014.62, 2014.68, 2014.75,
    2014.80, 2014.86, 2014.91, 2014.97, 2015.04, 2015.10, 2015.17, 2015.25, 2015.31, 2015.38,
    2015.46, 2015.53, 2015.60, 2015.67, 2015.73, 2015.79, 2015.85, 2015.90, 2015.96, 2016.02,
    2016.08, 2016.14, 2016.21, 2016.28, 2016.36, 2016.44, 2016.51, 2016.57, 2016.60, 2016.62,
    2016.64, 2016.66, 2016.69, 2016.72, 2016.76, 2016.81, 2016.87, 2016.93, 2016.97, 2017.01,
    2017.03, 2017.05, 2017.09, 2017.13, 2017.18, 2017.23, 2017.29, 2017.36, 2017.43, 2017.50,
    2017.57, 2017.63, 2017.69, 2017.74, 2017.80, 2017.85, 2017.91, 2017.95, 2017.99, 2018.03,
    2018.05, 2018.08, 2018.12, 2018.15, 2018.20, 2018.24, 2018.28, 2018.32, 2018.36,
]
sw_swell = [
    2009.04, 2009.09, 2009.17, 2009.22, 2009.31, 2009.38, 2009.44, 2009.50, 2009.57, 2009.63,
    2009.69, 2009.74, 2009.80, 2009.86, 2009.95, 2010.01, 2010.12, 2010.24, 2010.30, 2010.36,
    2010.42, 2010.48, 2010.53, 2010.58, 2010.78, 2010.83, 2010.90, 2010.95, 2011.01, 2011.07,
    2011.12, 2011.17, 2011.23, 2011.29, 2011.35, 2011.41, 2011.47, 2011.53, 2011.62, 2011.67,
    2011.72, 2011.77, 2011.82, 2011.90, 2011.95, 2012.01, 2012.05, 2012.10, 2012.16, 2012.22,
    2012.28, 2012.33, 2012.38, 2012.50, 2012.56, 2012.63, 2012.69, 2012.75, 2012.82, 2012.88,
    2012.94, 2012.99, 2013.05, 2013.12, 2013.18, 2013.26, 2013.32, 2013.40, 2013.48, 2013.55,
    2013.61, 2013.67, 2013.74, 2013.80, 2013.86, 2013.92, 2013.97, 2014.09, 2014.13, 2014.19,
    2014.25, 2014.32, 2014.40, 2014.47, 2014.54, 2014.60, 2014.65, 2014.72, 2014.78, 2014.83,
    2014.89, 2014.94, 2015.01, 2015.07, 2015.14, 2015.21, 2015.28, 2015.35, 2015.42, 2015.50,
    2015.57, 2015.64, 2015.70, 2015.76, 2015.82, 2015.88, 2015.93, 2015.99, 2016.05, 2016.11,
    2016.18, 2016.25, 2016.32, 2016.40, 2016.48, 2016.54, 2016.74, 2016.79, 2016.84, 2016.90,
    2016.95, 2017.07, 2017.11, 2017.15, 2017.21, 2017.26, 2017.33, 2017.40, 2017.46, 2017.54,
    2017.60, 2017.66, 2017.72, 2017.77, 2017.83, 2017.88, 2017.93, 2017.97, 2018.01, 2018.10,
    2018.17, 2018.22, 2018.26, 2018.30, 2018.34,
]

# ---- daily rain events (mm) and hydrological-year totals ----
rain_year = [
    2009.02, 2009.05, 2009.08, 2009.11, 2009.15, 2009.19, 2009.24, 2009.27, 2009.34, 2009.38,
    2009.43, 2009.50, 2009.56, 2009.63, 2009.71, 2009.76, 2009.81, 2009.85, 2009.89, 2009.93,
    2009.96, 2009.98,
    2010.03, 2010.06, 2010.11, 2010.14, 2010.18, 2010.21, 2010.24, 2010.28, 2010.34, 2010.37,
    2010.42, 2010.48, 2010.53, 2010.58, 2010.62, 2010.67, 2010.71, 2010.73, 2010.78, 2010.83,
    2010.88, 2010.93, 2010.97,
    2011.03, 2011.08, 2011.13, 2011.19, 2011.22, 2011.27, 2011.33, 2011.38, 2011.42, 2011.47,
    2011.52, 2011.57, 2011.62, 2011.68, 2011.73, 2011.78, 2011.81, 2011.82, 2011.84, 2011.85,
    2011.88, 2011.89, 2011.93, 2011.97,
    2012.03, 2012.08, 2012.14, 2012.19, 2012.23, 2012.27, 2012.32, 2012.36, 2012.40, 2012.45,
    2012.50, 2012.55, 2012.61, 2012.66, 2012.71, 2012.75, 2012.79, 2012.84, 2012.87, 2012.90,
    2012.95,
    2013.02, 2013.06, 2013.11, 2013.17, 2013.21, 2013.25, 2013.29, 2013.32, 2013.37, 2013.43,
    2013.50, 2013.56, 2013.62, 2013.66, 2013.70, 2013.75, 2013.80, 2013.84, 2013.88, 2013.92,
    2013.97,
    2014.02, 2014.07, 2014.14, 2014.19, 2014.25, 2014.30, 2014.34, 2014.40, 2014.43, 2014.46,
    2014.51, 2014.54, 2014.57, 2014.61, 2014.64, 2014.68, 2014.72, 2014.75, 2014.79, 2014.84,
    2014.88, 2014.92, 2014.95, 2014.98,
    2015.02, 2015.06, 2015.11, 2015.16, 2015.23, 2015.29, 2015.35, 2015.41, 2015.47, 2015.52,
    2015.57, 2015.62, 2015.67, 2015.72, 2015.78, 2015.83, 2015.88, 2015.94,
    2016.01, 2016.05, 2016.10, 2016.14, 2016.17, 2016.21, 2016.24, 2016.27, 2016.30, 2016.34,
    2016.37, 2016.41, 2016.46, 2016.52, 2016.58, 2016.64, 2016.69, 2016.73, 2016.76, 2016.79,
    2016.84, 2016.90, 2016.95,
    2017.02, 2017.07, 2017.10, 2017.15, 2017.20, 2017.24, 2017.30, 2017.36, 2017.42, 2017.48,
    2017.55, 2017.62, 2017.67, 2017.68, 2017.72, 2017.77, 2017.81, 2017.86, 2017.92, 2017.97,
    2018.02, 2018.05, 2018.08, 2018.11, 2018.15, 2018.19, 2018.23, 2018.26, 2018.29, 2018.33,
    2018.37, 2018.41, 2018.45, 2018.49, 2018.53, 2018.57, 2018.62, 2018.67, 2018.72,
]
rain_mm = [
    28, 6, 29, 4, 8, 17, 46, 5, 20, 3,
    4, 2, 5, 3, 22, 14, 36, 7, 9, 11,
    14, 6,
    5, 12, 52, 24, 51, 9, 14, 6, 42, 30,
    4, 3, 8, 12, 6, 10, 79, 68, 35, 5,
    8, 4, 6,
    3, 6, 4, 45, 8, 3, 12, 10, 31, 5,
    3, 64, 7, 4, 9, 16, 131, 55, 36, 46,
    70, 76, 8, 3,
    4, 2, 6, 5, 14, 10, 4, 6, 19, 5,
    3, 4, 3, 6, 9, 39, 12, 56, 8, 14,
    4,
    3, 5, 8, 39, 12, 20, 9, 14, 6, 3,
    4, 3, 5, 8, 22, 6, 4, 10, 43, 5,
    3,
    4, 6, 24, 5, 9, 8, 6, 27, 10, 40,
    12, 8, 35, 14, 31, 10, 16, 82, 7, 11,
    9, 55, 12, 6,
    4, 22, 9, 8, 18, 4, 10, 3, 12, 6,
    9, 50, 5, 10, 6, 16, 4, 7,
    3, 6, 5, 9, 27, 12, 9, 31, 20, 8,
    12, 18, 6, 4, 3, 8, 10, 6, 44, 48,
    9, 16, 5,
    12, 18, 6, 4, 8, 27, 5, 3, 4, 2,
    3, 5, 26, 25, 6, 4, 29, 5, 3, 4,
    12, 6, 15, 7, 10, 12, 24, 9, 29, 10,
    27, 14, 7, 9, 5, 6, 8, 4, 5,
]
rain_total_label = ["471.8mm", "868.5mm", "916.1mm", "383.1mm", "455.5mm",
                    "677.9mm", "383.4mm", "459.5mm", "412.9mm", "*343.1mm"]
rain_total_class = ["mid", "wet", "wet", "dry", "mid", "wet", "dry", "mid", "mid", "mid"]

years = list(range(2009, 2020))

# ---- colours ----
C_GREEN = "#a2df78"
C_ORANGE = "#f8a85c"
C_RED = "#ef5a55"
C_DARK = "#67625f"
C_EDGE = "#c8401a"
C_YEARLINE = "#3a3a8c"
C_MARK = "#a3322a"
C_GREY = "#c0c0c0"
CLASS_COLOR = {"mid": "#f7931e", "wet": "#62c232", "dry": "#e8432e"}

FW, FH = 1115.0, 1297.0
LEFT, RIGHT = 82, 1112
fig = plt.figure(figsize=(FW / 100, FH / 100), dpi=100)


def add_panel(top, bottom):
    return fig.add_axes([LEFT / FW, 1 - bottom / FH, (RIGHT - LEFT) / FW, (bottom - top) / FH])


def style_spines(ax):
    for side in ("top", "right", "bottom"):
        ax.spines[side].set_linewidth(1.5)
    ax.spines["left"].set_linewidth(2.8)
    ax.tick_params(axis="y", direction="out", length=4, width=1.5, pad=3,
                   labelsize=11)
    for lab in ax.get_yticklabels():
        lab.set_fontweight("bold")


transects = [(t1_year, t1_width), (t2_year, t2_width), (t3_year, t3_width),
             (t4_year, t4_width), (t5_year, t5_width)]
PANEL_H = 209.3
TOP0 = 17.0

for k, (ty, tw) in enumerate(transects):
    assert len(ty) == len(tw)
    ax = add_panel(TOP0 + k * PANEL_H, TOP0 + (k + 1) * PANEL_H)
    ax.set_xlim(2009, 2019)
    ax.set_ylim(0, 60)
    # beach state bands
    ax.axhspan(0, 10, color=C_DARK, lw=0, zorder=0)
    ax.axhspan(10, 25, color=C_RED, lw=0, zorder=0)
    ax.axhspan(25, 30, color=C_ORANGE, lw=0, zorder=0)
    ax.axhspan(30, 60, color=C_GREEN, lw=0, zorder=0)
    ax.axhline(25, color=C_EDGE, lw=1.3, zorder=1)
    ax.axhline(30, color=C_EDGE, lw=1.3, zorder=1)
    for y in years[1:-1]:
        ax.axvline(y, color=C_YEARLINE, lw=1.0, zorder=1)
    ax.plot(ty, tw, color="black", lw=0.8, zorder=2)
    ax.plot(ty, tw, "o", ms=5, mfc=C_MARK, mec="black", mew=0.7, zorder=3)
    ax.text(2009.05 if k == 0 else 2009.08, 54.5, f"TRANSECT {k + 1}",
            fontsize=12.5, fontweight="bold", va="center", zorder=4)
    ax.set_yticks(range(0, 70, 10) if k == 0 else range(0, 60, 10))
    ax.set_xticks(years)
    ax.tick_params(axis="x", labelbottom=False, direction="in", length=3, width=1.2)
    style_spines(ax)

# ---- wave height panel ----
axw = add_panel(TOP0 + 5 * PANEL_H, 1165)
axw.set_facecolor(C_GREY)
axw.set_xlim(2009, 2019)
axw.set_ylim(0, 7)
axw.vlines(sw_swell, 5.0, 7.0, color="#7c7c7c", lw=1.6, zorder=1)
axw.vlines(east_swell, 5.0, 7.0, color="black", lw=1.9, zorder=2)
wave_t = 2009 + (np.arange(len(wave_band)) + 0.5) / 24
axw.fill_between(wave_t, 0.2, wave_band, step="mid", color="black", lw=0, zorder=2)
axw.plot(wave_t, wave_band, color="black", lw=1.0, zorder=2)
axw.vlines(wave_peak_year, 0.3, wave_peak_m, color="black", lw=1.3, zorder=2)
axw.vlines(wave_minor_year, 0.3, wave_minor_m, color="black", lw=1.0, zorder=2)
for y in years[1:-1]:
    axw.axvline(y, color="#555555", ls=":", lw=1.0, zorder=1)
axw.text(2009.04, 4.5, "Wave direction (Grey for South-West swell and Black for East swell)",
         color="#3c3ca8", fontsize=6.8, fontweight="bold", va="center", zorder=3)
axw.set_yticks([0, 2, 4, 6])
axw.set_xticks([])
style_spines(axw)
axw.tick_params(axis="y", labelsize=12)

# ---- rain panel ----
axr = add_panel(1165, 1271)
axr.set_facecolor(C_GREY)
axr.set_xlim(2009, 2019)
axr.set_ylim(0, 140)
for y in years[1:-1]:
    axr.axvline(y, color="#555555", ls=":", lw=1.0, zorder=1)
axr.axhline(60, color="#f2e24c", ls=(0, (9, 6)), lw=1.3, zorder=1)
axr.axhline(20, color="#4a3cb4", ls=(0, (9, 6)), lw=1.3, zorder=1)
axr.vlines(rain_year, 0, rain_mm, color="black", lw=1.7, zorder=2)
for i, (lab, cls) in enumerate(zip(rain_total_label, rain_total_class)):
    axr.text(years[i] + 0.5, 107, lab, color=CLASS_COLOR[cls], fontsize=13,
             fontweight="bold", ha="center", va="center", zorder=3)
axr.text(2018.99, 63, "Extraordinary precipitation", color="#f5e63c", fontsize=9.5,
         fontweight="bold", ha="right", va="bottom", zorder=3)
axr.text(2018.99, 22, "Intense precipitation", color="#3c3cb0", fontsize=10,
         ha="right", va="bottom", zorder=3)
axr.set_yticks(range(0, 140, 20))
axr.set_xticks(years)
axr.set_xticks([y + 0.5 for y in years[:-1]], minor=True)
axr.set_xticklabels([])
axr.set_xticklabels([str(y) for y in years[:-1]], minor=True,
                    fontsize=13.5, fontweight="bold", fontstyle="italic")
axr.tick_params(axis="x", which="major", direction="out", length=6, width=1.5)
axr.tick_params(axis="x", which="minor", length=0, pad=6)
style_spines(axr)
axr.tick_params(axis="y", labelsize=12.5, pad=2)

# ---- axis titles ----
fig.text(33 / FW, 1 - 633 / FH, "Effective beach width (m)", rotation=90,
         ha="center", va="center", fontsize=11)
fig.text(17 / FW, 1 - 1107 / FH, "Wave height (m)", rotation=90,
         ha="center", va="center", fontsize=11)
fig.text(17 / FW, 1 - 1208 / FH, "Rain (mm)", rotation=90,
         ha="center", va="center", fontsize=11)

fig.savefig("out.png", dpi=100)
plt.close(fig)
